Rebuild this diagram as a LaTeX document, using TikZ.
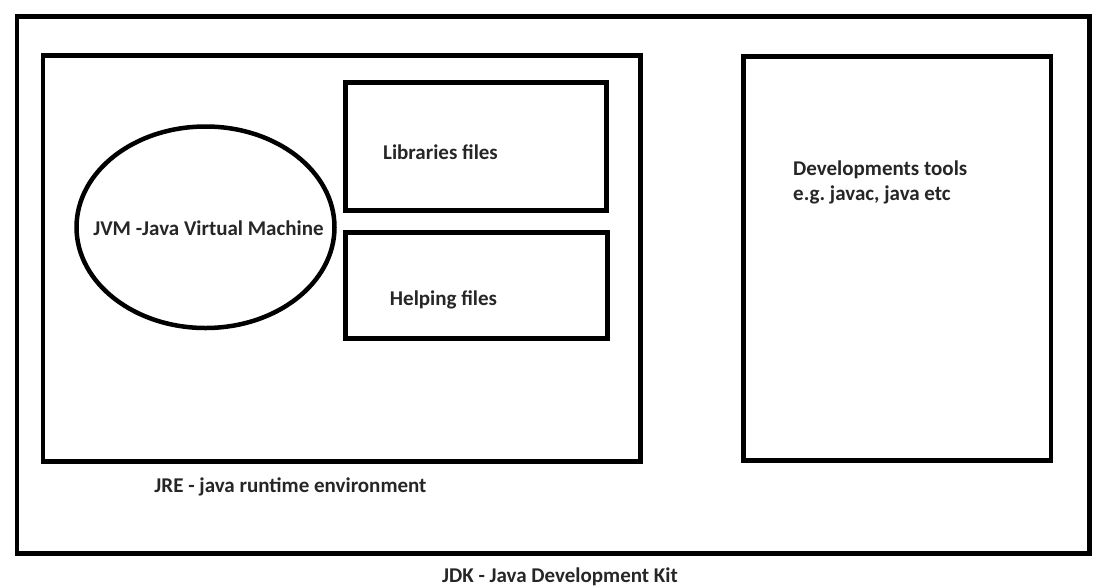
\documentclass[tikz,border=0pt]{standalone}
\usepackage{fontspec}
\setmainfont{Carlito}
\usetikzlibrary{positioning,shapes.geometric}

\begin{document}
\begin{tikzpicture}[x=1pt, y=-1pt,
    box/.style={draw, line width=4.5pt, inner sep=0pt},
    oval/.style={ellipse, draw, line width=4.5pt, inner sep=0pt},
    lab/.style={font=\bfseries\fontsize{21}{25}\selectfont, text=black!85, inner sep=0pt},
  ]
  \useasboundingbox (0,0) rectangle (1105,587);
  % outer and inner frames
  \node[box, minimum width=1072.5pt, minimum height=537pt] (jdk) at (553.25,285) {};
  \node[box, minimum width=597.5pt, minimum height=406pt] (jre) at (341.75,258.5) {};
  \node[box, minimum width=261pt, minimum height=128pt] (libs) at (476,146.5) {};
  \node[box, minimum width=262pt, minimum height=106pt] (help) at (476.5,285.5) {};
  \node[box, minimum width=307.5pt, minimum height=404pt] (dev) at (897.25,258.5) {};
  \node[oval, minimum width=258pt, minimum height=201.5pt] (jvm) at (205.5,227.25) {};
  % labels
  \node[lab] (jvmlab) at (208.5,228) {JVM -Java Virtual Machine};
  \node[lab] (libslab) at (440.5,152) {Libraries files};
  \node[lab] (helplab) at (443.5,300) {Helping files};
  \node[lab, align=left, anchor=west] (devlab) at (793,182.5) {Developments tools\\e.g.\ javac, java etc};
  \node[lab] (jrelab) at (290.5,487) {JRE - java runtime environment};
  \node[lab] (jdklab) at (560,577) {JDK - Java Development Kit};
\end{tikzpicture}
\end{document}
